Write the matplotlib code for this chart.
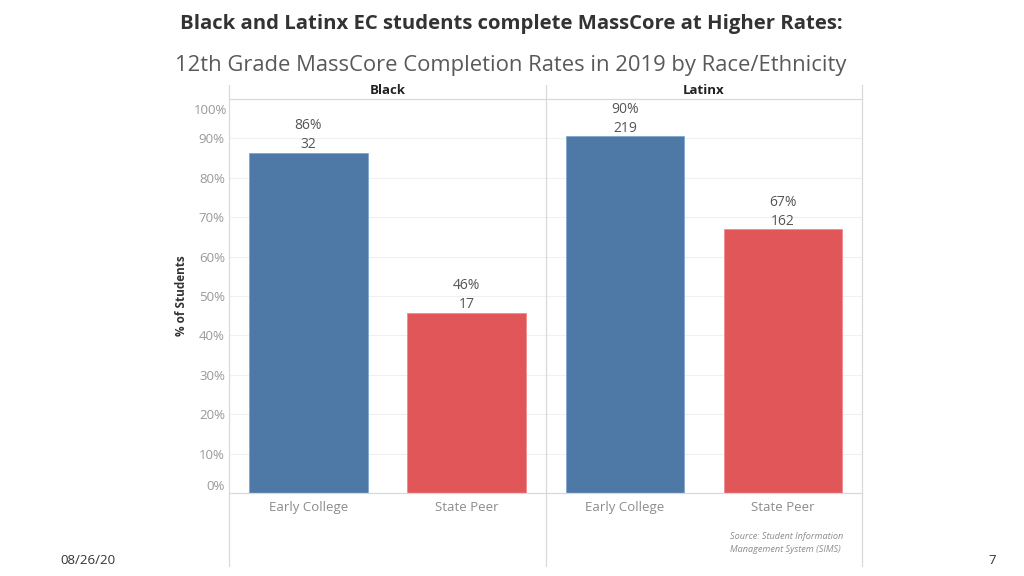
import matplotlib
matplotlib.use("Agg")
import matplotlib.pyplot as plt
from matplotlib.lines import Line2D

# ---- data ----
groups = ["Black", "Latinx"]
categories = ["Early College", "State Peer"]
rates = {"Black": [86.4, 45.8], "Latinx": [90.5, 66.9]}
counts = {"Black": [32, 17], "Latinx": [219, 162]}
yticks = [0, 10, 20, 30, 40, 50, 60, 70, 80, 90, 100]
colors = ["#4e79a7", "#e15759"]

W, H = 1024, 576
fig = plt.figure(figsize=(W / 100, H / 100), dpi=100)
plt.rcParams['font.family'] = ['Open Sans', 'DejaVu Sans']

def fx(x):
    return x / W

def fy(y):
    return 1 - y / H

left, mid, right = 229, 546, 862
top, bottom = 99, 493
frame_top, frame_bottom = 85, 566
lc = "#d9d9d9"

panels = [(left, mid), (mid, right)]
axes = []
for gi, g in enumerate(groups):
    x0, x1 = panels[gi]
    ax = fig.add_axes([fx(x0), fy(bottom), fx(x1 - x0), fy(top) - fy(bottom)])
    axes.append(ax)
    ax.set_xlim(0, 2)
    ax.set_ylim(0, 100)
    for s in ax.spines.values():
        s.set_visible(False)
    for t in yticks[1:-1]:
        ax.axhline(t, color="#f0f0f0", lw=0.8, zorder=0)
    xs = [0.5, 1.5]
    ax.bar(xs, rates[g], width=0.75, color=colors, zorder=2,
           edgecolor=["#7fa6cf", "#f08a8c"], linewidth=0.6)
    for x, r, c in zip(xs, rates[g], counts[g]):
        ax.text(x, r + 0.1, f"{round(r)}%\n{c}", ha="center", va="bottom",
                fontsize=10, color="#555555", linespacing=1.4)
    ax.set_xticks(xs)
    ax.set_xticklabels(categories, fontsize=9.5, color="#8c8c8c")
    ax.tick_params(axis="x", length=0, pad=6)
    if gi == 0:
        ax.set_yticks(yticks[:-1])
        ax.set_yticklabels([f"{t}%" for t in yticks[:-1]], fontsize=9.5, color="#999999")
        ax.tick_params(axis="y", length=0, pad=3)
        labs = ax.get_yticklabels()
        labs[0].set_va("bottom")
        ax.text(-0.0125, 97.0, f"{yticks[-1]}%", transform=ax.transData,
                ha="right", va="center", fontsize=9.5, color="#999999")
        ax.set_ylabel("% of Students", fontsize=8.5, color="#333333",
                      fontweight="bold", labelpad=8)
    else:
        ax.set_yticks([])
    ax.text(1, 100.6, g, transform=ax.transData, ha="center", va="bottom",
            fontsize=9.5, fontweight="bold", color="#222222")

# frame lines
def fline(x0, y0, x1, y1):
    fig.add_artist(Line2D([fx(x0), fx(x1)], [fy(y0), fy(y1)], color=lc, lw=0.9))

for x in (left, mid, right):
    fline(x, frame_top, x, frame_bottom)
fline(left, top, right, top)
fline(left, bottom, right, bottom)

# titles
fig.text(fx(511), fy(24), "Black and Latinx EC students complete MassCore at Higher Rates:",
         ha="center", va="center", fontsize=14.6, fontweight="bold", color="#333333")
fig.text(fx(511), fy(65), "12th Grade MassCore Completion Rates in 2019 by Race/Ethnicity",
         ha="center", va="center", fontsize=15.8, color="#595959")

fig.text(fx(730), fy(543), "Source: Student Information\nManagement System (SIMS)",
         ha="left", va="center", fontsize=6.6, style="italic", color="#8c8c8c",
         linespacing=1.45)
fig.text(fx(60), fy(560), "08/26/20", ha="left", va="center", fontsize=9.5, color="#333333")
fig.text(fx(992), fy(560), "7", ha="center", va="center", fontsize=9.5, color="#333333")

fig.savefig("out.png", dpi=100)
